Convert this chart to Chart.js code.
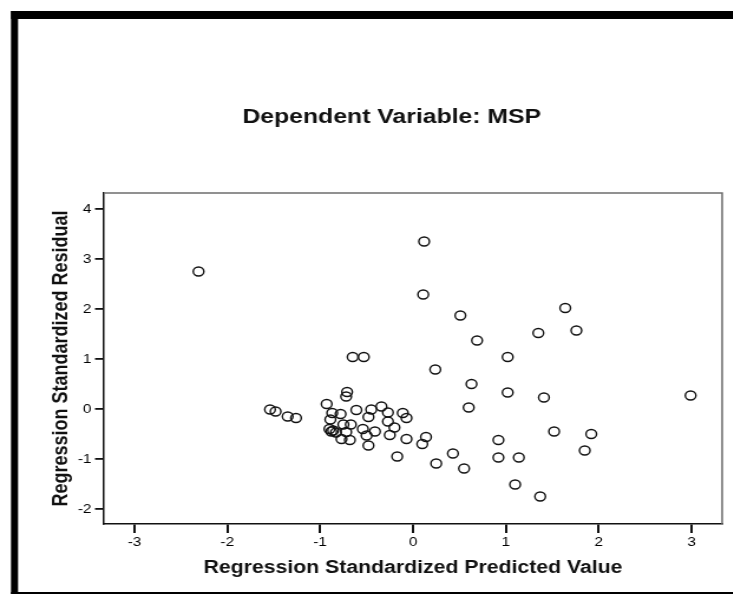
<!DOCTYPE html>
<html>
<head>
<meta charset="utf-8">
<script src="https://cdn.jsdelivr.net/npm/chart.js@4.4.1/dist/chart.umd.min.js"></script>
<style>
    html, body { margin: 0; padding: 0; background: #fff; overflow: hidden; }
    /* the source picture is stretched sideways, so draw narrow and widen */
    #wrap { width: 621px; height: 594px; transform: scaleX(1.18); transform-origin: 0 0; }
</style>
</head>
<body>
<div id="wrap"><canvas id="residualChart"></canvas></div>
<script>
    const inkDark = '#111';
    const frameGrey = '#6e6e6e';

    const xTicks = [-3, -2, -1, 0, 1, 2, 3];
    const yTicks = [-2, -1, 0, 1, 2, 3, 4];

    // Regression standardized predicted value
    const predicted = [
        -2.31, 0.12, 0.11, 0.51, 1.35, 0.69, -0.65, -0.53, 1.02, 0.24,
        1.64, 1.76, 0.63, 1.02, 1.41, 0.60, 0.92, 0.92, 1.14, 0.43,
        0.25, 0.55, 1.10, 1.37, -0.17, 0.14, 0.10, -0.07, -0.48, -0.71,
        -0.72, -0.93, -0.34, -0.61, -0.45, -0.27, -0.11, -0.07, -0.48, -0.27,
        -0.20, -0.41, -0.54, -0.50, -0.25, -0.87, -0.78, -0.89, -0.75, -0.67,
        -0.90, -0.86, -0.83, -0.88, -0.72, -0.77, -0.68, -1.54, -1.48, -1.35,
        -1.26, 2.99, 1.52, 1.92, 1.85
    ];
    // Regression standardized residual
    const residual = [
        2.75, 3.35, 2.29, 1.87, 1.52, 1.37, 1.04, 1.04, 1.04, 0.79,
        2.02, 1.57, 0.50, 0.33, 0.23, 0.03, -0.62, -0.97, -0.97, -0.89,
        -1.09, -1.19, -1.51, -1.75, -0.95, -0.56, -0.70, -0.60, -0.73, 0.34,
        0.25, 0.10, 0.05, -0.02, -0.01, -0.07, -0.08, -0.18, -0.16, -0.25,
        -0.37, -0.45, -0.40, -0.53, -0.52, -0.08, -0.10, -0.21, -0.31, -0.31,
        -0.40, -0.43, -0.47, -0.45, -0.46, -0.60, -0.62, -0.01, -0.05, -0.15,
        -0.18, 0.27, -0.45, -0.50, -0.83
    ];

    const points = predicted.map(function(x, i) { return { x: x, y: residual[i] }; });

    // title, outer black frame and the grey box round the plot
    const decorations = {
        id: 'decorations',
        afterDraw: function(chart) {
            const ctx = chart.ctx;
            const area = chart.chartArea;
            ctx.save();
            ctx.fillStyle = '#000';
            ctx.fillRect(9.3, 11, chart.width, 8);
            ctx.fillRect(9.3, 11, 6, chart.height);
            ctx.fillRect(9.3, 592, chart.width, 2);

            ctx.strokeStyle = frameGrey;
            ctx.lineWidth = 1.5;
            ctx.beginPath();
            ctx.moveTo(area.left, area.top);
            ctx.lineTo(area.right, area.top);
            ctx.lineTo(area.right, area.bottom);
            ctx.stroke();

            ctx.fillStyle = '#111';
            ctx.font = 'bold 21px "Liberation Sans", Arial, sans-serif';
            ctx.textAlign = 'center';
            ctx.textBaseline = 'middle';
            ctx.fillText('Dependent Variable: MSP', 332, 117);
            ctx.restore();
        }
    };

    const ctx = document.getElementById('residualChart').getContext('2d');
    new Chart(ctx, {
        type: 'scatter',
        data: {
            datasets: [{
                data: points,
                pointStyle: 'circle',
                pointRadius: 4.5,
                pointHoverRadius: 4.5,
                pointBorderWidth: 1.4,
                pointBorderColor: '#111',
                pointBackgroundColor: 'rgba(0,0,0,0)'
            }]
        },
        options: {
            responsive: true,
            maintainAspectRatio: false,
            animation: false,
            layout: { padding: { top: 193, right: 9, bottom: 0, left: 0 } },
            scales: {
                x: {
                    type: 'linear',
                    min: -3.33,
                    max: 3.33,
                    afterFit: function(scale) { scale.height = 70; },
                    afterBuildTicks: function(scale) { scale.ticks = xTicks.map(function(v) { return { value: v }; }); },
                    grid: { drawOnChartArea: false, drawTicks: true, tickLength: 9, color: inkDark, lineWidth: 2 },
                    border: { display: true, color: inkDark, width: 1.5 },
                    ticks: {
                        color: '#000',
                        padding: 2,
                        font: { family: '"Liberation Sans", Arial, sans-serif', size: 13 }
                    },
                    title: {
                        display: true,
                        text: 'Regression Standardized Predicted Value',
                        color: '#111',
                        font: { family: '"Liberation Sans", Arial, sans-serif', size: 18, weight: 'bold' },
                        padding: { top: 0, bottom: 15 }
                    }
                },
                y: {
                    type: 'linear',
                    min: -2.3,
                    max: 4.32,
                    afterFit: function(scale) { scale.width = 88; },
                    afterBuildTicks: function(scale) { scale.ticks = yTicks.map(function(v) { return { value: v }; }); },
                    grid: { drawOnChartArea: false, drawTicks: true, tickLength: 7.5, color: inkDark, lineWidth: 1.8 },
                    border: { display: true, color: inkDark, width: 1.5 },
                    ticks: {
                        color: '#000',
                        padding: 3,
                        font: { family: '"Liberation Sans", Arial, sans-serif', size: 13 }
                    },
                    title: {
                        display: true,
                        text: 'Regression Standardized Residual',
                        color: '#111',
                        font: { family: '"Liberation Sans", Arial, sans-serif', size: 18, weight: 'bold' },
                        padding: { top: 41.7, bottom: 0 }
                    }
                }
            },
            plugins: {
                legend: { display: false },
                title: { display: false },
                tooltip: { enabled: false }
            }
        },
        plugins: [decorations]
    });
</script>
</body>
</html>
